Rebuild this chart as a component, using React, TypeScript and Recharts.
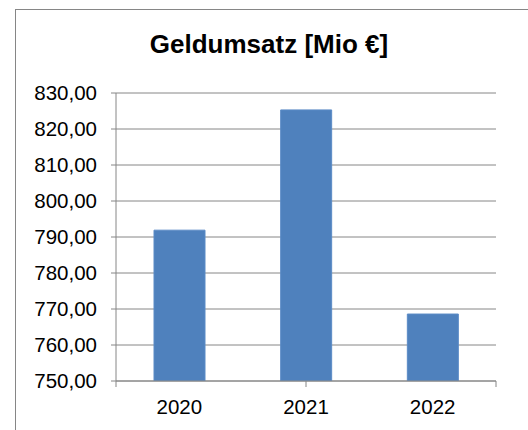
import { BarChart, Bar, XAxis, YAxis, CartesianGrid } from 'recharts';

const years = ['2020', '2021', '2022'];
const umsatz = [791.9, 825.3, 768.6];
const yTicks = [750, 760, 770, 780, 790, 800, 810, 820, 830];
const edgeTicks = [0, 1, 2, 3];

const data = years.map((year, i) => ({ year, umsatz: umsatz[i] }));

const FONT = '"Liberation Sans", Arial, sans-serif';
const GREY = '#868686';

const App = () => {
  return (
    <div style={{ position: 'absolute', left: 0, top: 0, width: 528, height: 430, background: '#fff', fontFamily: FONT }}>
      <div
        style={{
          position: 'absolute',
          left: 15,
          top: 9,
          right: -2,
          bottom: -2,
          borderLeft: `1px solid ${GREY}`,
          borderTop: `1px solid ${GREY}`,
        }}
      />
      <div
        style={{
          position: 'absolute',
          left: 0,
          width: 538,
          top: 31,
          textAlign: 'center',
          fontSize: 26,
          fontWeight: 'bold',
          lineHeight: 1,
          color: '#000',
        }}
      >
        Geldumsatz [Mio €]
      </div>
      <div style={{ position: 'absolute', left: 0, top: 0 }}>
        <BarChart
          width={528}
          height={430}
          data={data}
          margin={{ top: 93, right: 32, bottom: 19, left: 0 }}
          barCategoryGap="30%"
        >
          <CartesianGrid vertical={false} stroke={GREY} strokeWidth={1} xAxisId={1} />
          {/* category boundaries with tick marks, sits right on the plot edge */}
          <XAxis
            xAxisId={0}
            type="number"
            domain={[0, 3]}
            ticks={edgeTicks}
            interval={0}
            height={1}
            tickSize={6}
            tickFormatter={() => ''}
            axisLine={{ stroke: GREY }}
            tickLine={{ stroke: GREY }}
          />
          <XAxis
            xAxisId={1}
            dataKey="year"
            height={29}
            tickSize={0}
            tickMargin={17}
            axisLine={false}
            tickLine={false}
            tick={{ fill: '#000', fontSize: 20.5, fontFamily: FONT }}
          />
          <YAxis
            domain={[750, 830]}
            ticks={yTicks}
            width={116}
            tickSize={5}
            tickMargin={14}
            interval={0}
            allowDataOverflow
            tickFormatter={(v: number) => v.toFixed(2).replace('.', ',')}
            axisLine={{ stroke: GREY }}
            tickLine={{ stroke: GREY }}
            tick={{ fill: '#000', fontSize: 20.5, fontFamily: FONT }}
          />
          <Bar xAxisId={1} dataKey="umsatz" fill="#4F81BD" stroke="#5B8BC6" strokeWidth={1} isAnimationActive={false} />
        </BarChart>
      </div>
    </div>
  );
};

export default App;
